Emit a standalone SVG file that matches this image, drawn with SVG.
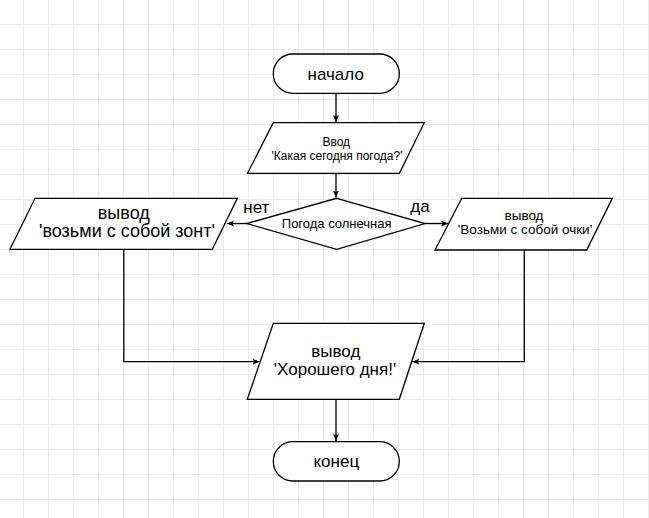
<svg xmlns="http://www.w3.org/2000/svg" width="649" height="518" viewBox="0 0 649 518">
<style>
.grid{stroke:#ebebeb;stroke-width:1;fill:none}
.shape{fill:#ffffff;stroke:#000000;stroke-width:1.3}
.edge{fill:none;stroke:#000000;stroke-width:1.3}
text{font-family:"Liberation Sans",Arial,sans-serif;fill:#000000;text-anchor:middle}
</style>
<defs>
<marker id="arr" markerUnits="userSpaceOnUse" markerWidth="10" markerHeight="8" refX="7" refY="3" orient="auto">
<path d="M0,0 L7,3 L0,6 L1.5,3 z" fill="#000000"/>
</marker>
</defs>
<rect width="649" height="518" fill="#ffffff"/>
<path class="grid" d="M23.5 0V518M48.5 0V518M73.5 0V518M98.5 0V518M123.5 0V518M148.5 0V518M173.5 0V518M198.5 0V518M223.5 0V518M248.5 0V518M273.5 0V518M298.5 0V518M323.5 0V518M348.5 0V518M373.5 0V518M398.5 0V518M423.5 0V518M448.5 0V518M473.5 0V518M498.5 0V518M523.5 0V518M548.5 0V518M573.5 0V518M598.5 0V518M623.5 0V518M648.5 0V518M0 24.5H649M0 49.5H649M0 74.5H649M0 99.5H649M0 124.5H649M0 149.5H649M0 174.5H649M0 199.5H649M0 224.5H649M0 249.5H649M0 274.5H649M0 299.5H649M0 324.5H649M0 349.5H649M0 374.5H649M0 399.5H649M0 424.5H649M0 449.5H649M0 474.5H649M0 499.5H649"/>
<g id="connectors">
<path class="edge" d="M336 93.5V122" marker-end="url(#arr)"/>
<path class="edge" d="M336 173.5V197.5" marker-end="url(#arr)"/>
<path class="edge" d="M247 223.5H227" marker-end="url(#arr)"/>
<path class="edge" d="M425 223.5H448" marker-end="url(#arr)"/>
<path class="edge" d="M123.8 249.5V361.7H259.5" marker-end="url(#arr)"/>
<path class="edge" d="M524.3 250V361.7H412.3" marker-end="url(#arr)"/>
<path class="edge" d="M336 399.5V441" marker-end="url(#arr)"/>
</g>
<g id="start">
<rect class="shape" x="273.3" y="54" width="126" height="39.3" rx="19.6"/>
<text x="335.7" y="79.5" font-size="17">начало</text>
</g>
<g id="input">
<polygon class="shape" points="273.3,122.7 424.3,122.7 399.4,173.3 247.5,173.3"/>
<text x="336.3" y="145.5" font-size="12">Ввод</text>
<text x="337" y="159.5" font-size="12">'Какая сегодня погода?'</text>
</g>
<g id="decision">
<polygon class="shape" points="336.7,198.3 425,223.5 336.7,249.3 246.7,223.5"/>
<text x="336.7" y="228.3" font-size="13">Погода солнечная</text>
</g>
<g id="labels">
<text x="256.3" y="212.5" font-size="17">нет</text>
<text x="420" y="211.7" font-size="17">да</text>
</g>
<g id="out-umbrella">
<polygon class="shape" points="35,198.3 237.3,198.3 212.3,249.3 10,249.3"/>
<text x="123.8" y="218.5" font-size="18">вывод</text>
<text x="127" y="237" font-size="18">'возьми с собой зонт'</text>
</g>
<g id="out-glasses">
<polygon class="shape" points="461.7,198.3 612.3,198.3 586.7,250 435,250"/>
<text x="524" y="220" font-size="13.5">вывод</text>
<text x="525" y="234" font-size="13.5">'Возьми с собой очки'</text>
</g>
<g id="out-goodday">
<polygon class="shape" points="273.3,323.3 424.3,323.3 399.3,399.3 247.3,399.3"/>
<text x="335.8" y="357" font-size="17">вывод</text>
<text x="335" y="374.5" font-size="17">'Хорошего дня!'</text>
</g>
<g id="end">
<rect class="shape" x="273.3" y="441.7" width="126" height="39.3" rx="19.6"/>
<text x="336.3" y="466.7" font-size="17">конец</text>
</g>
</svg>
